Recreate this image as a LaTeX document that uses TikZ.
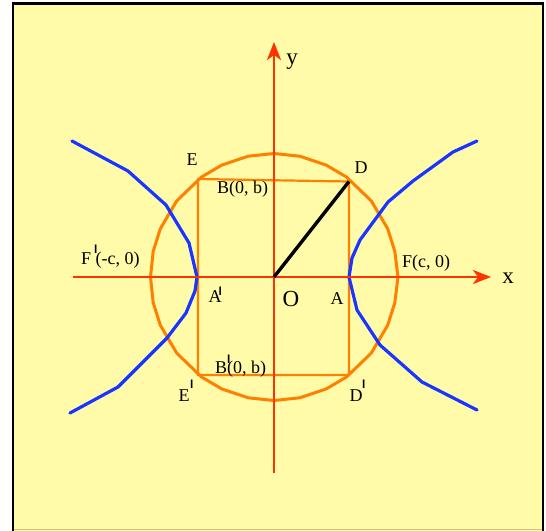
\documentclass[tikz,border=0pt]{standalone}
\usepackage{fontspec}
\setmainfont{Liberation Serif}
\newfontfamily\primefont{DejaVu Sans}
\usetikzlibrary{arrows.meta,calc}
\definecolor{bgyellow}{RGB}{255,251,168}
\definecolor{axisred}{RGB}{255,51,0}
\definecolor{curveorange}{RGB}{255,128,0}
\definecolor{hypblue}{RGB}{26,53,255}
\definecolor{edgegray}{RGB}{200,195,130}
\newcommand\pr[2]{\rlap{\kern#1\raisebox{#2}{\scalebox{1.7}[1]{\primefont\bfseries\fontsize{8.5}{8.5}\selectfont|}}}}
\begin{document}
\begin{tikzpicture}[x=1pt,y=-1pt,
  axis/.style={draw=axisred, line width=2.6pt, -{Stealth[length=18pt,width=14pt,inset=5pt]}},
  circ/.style={draw=curveorange, line width=3pt, line join=round},
  rectline/.style={draw=curveorange, line width=2.2pt},
  hyp/.style={draw=hypblue, line width=3.2pt, line join=round, line cap=round},
  radius/.style={draw=black, line width=3.4pt},
  lab/.style={font=\fontsize{18}{18}\selectfont, inner sep=0pt, anchor=base},
  biglab/.style={font=\fontsize{23}{23}\selectfont, inner sep=0pt, anchor=base}]
\useasboundingbox (0,0) rectangle (546,530);
% frame
\fill[bgyellow] (13,3.5) rectangle (543,540);
\draw[edgegray, line width=1pt] (13,529.5) -- (543,529.5);
\draw[black, line width=2.6pt] (13,540) -- (13,3.5) -- (543,3.5) -- (543,540);
% named points
\coordinate (O) at (274,277);
\coordinate (xl) at (73,277);
\coordinate (xr) at (491,277);
\coordinate (yb) at (274,473);
\coordinate (yt) at (274,42);
\coordinate (E) at (198,179);
\coordinate (D) at (349,181.5);
\coordinate (Dp) at (349,375);
\coordinate (Ep) at (198,375);
% circle (polygon)
\draw[circ] ($(O)+(0:124)$) \foreach \a in {12,23,38,54,65,78,90,102,115,126,142,157,168,180,192,203,218,234,245,258,270,282,295,306,322,337,348} { -- ($(O)+(\a:123.5)$) } -- cycle;
% rectangle
\draw[rectline] (E) -- (D) -- (Dp) -- (Ep) -- cycle;
% hyperbola
\draw[hyp] (72,141) -- (128,171) -- (166,205) -- (189,243) -- (197,277) -- (195,291) -- (186,313) -- (167,338) -- (118,387) -- (70,413);
\draw[hyp] (477,141) -- (453,152) -- (413,181) -- (388,202) -- (360,240) -- (352,258) -- (349,277) -- (357,310) -- (380,345) -- (422,382) -- (477,410);
% axes
\draw[axis] (xl) -- (xr);
\draw[axis] (yb) -- (yt);
% radius OD
\draw[radius] (O) -- (D);
% labels
\node[biglab] (ylab) at (292,64) {y};
\node[biglab] (xlab) at (508,283) {x};
\node[biglab] (olab) at (291,306) {O};
\node[lab] (alab) at (337,304) {A};
\node[lab] (aplab) at (215,302) {A\pr{-4pt}{9pt}};
\node[lab] (elab) at (192,165) {E};
\node[lab] (dlab) at (361,173) {D};
\node[lab, anchor=base west] (blab) at (217,193) {B(0, b)};
\node[lab, anchor=base west] (bplab) at (215,373) {B\pr{-1pt}{12pt}(0, b)};
\node[lab, anchor=base west] (fplab) at (81,264) {F\pr{2pt}{13pt} (-c, 0)};
\node[lab, anchor=base west] (flab) at (402,267) {F(c, 0)};
\node[lab] (eplab) at (184,401) {E\pr{-0.5pt}{15pt}};
\node[lab] (dplab) at (356,401) {D\pr{-1.5pt}{15pt}};
\end{tikzpicture}
\end{document}
